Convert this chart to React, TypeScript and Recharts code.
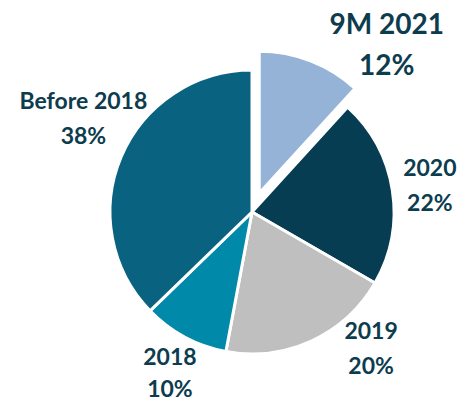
import { PieChart, Pie, Cell } from 'recharts'

const periods = ['9M 2021', '2020', '2019', '2018', 'Before 2018']
const shares = [12, 22, 20, 10, 38]
const colors = ['#95b3d7', '#063d52', '#bfbfbf', '#0089a9', '#0a6281']

const data = periods.map((name, i) => ({ name, value: shares[i] }))

const RAD = Math.PI / 180
const CX = 252
const CY = 212
const R = 142
const EXPLODE = 20
const TEXT = '#0c3c4e'

// hand-tuned shifts from the plain radial label spot
const labelNudge: Record<string, [number, number]> = {
  '9M 2021': [69, 1],
  '2020': [-2, 0],
  '2019': [43, -30],
  '2018': [4, 0],
  'Before 2018': [-1, -24],
}

// eslint-disable-next-line @typescript-eslint/no-explicit-any
function renderLabel(props: any) {
  const { midAngle, name, value } = props
  const dist = R + 40
  const [nx, ny] = labelNudge[name] ?? [0, 0]
  const x = CX + dist * Math.cos(-midAngle * RAD) + nx
  const y = CY + dist * Math.sin(-midAngle * RAD) + ny
  const big = name === '9M 2021'
  const gap = big ? 20.5 : name === '2018' ? 16 : 17.5
  return (
    <text
      x={x}
      y={y}
      textAnchor="middle"
      fill={TEXT}
      fontFamily="Lato, sans-serif"
      fontWeight={700}
      fontSize={big ? 28 : 23}
    >
      <tspan x={x} y={y - gap} dominantBaseline="central">{name}</tspan>
      <tspan x={x} y={y + gap} dominantBaseline="central">{`${value}%`}</tspan>
    </text>
  )
}

export default function App() {
  // 9M 2021 is pulled out along its mid angle
  const midDeg = (shares[0] / shares.reduce((a, b) => a + b, 0)) * 180
  const ex = CX + EXPLODE * Math.sin(midDeg * RAD)
  const ey = CY - EXPLODE * Math.cos(midDeg * RAD)

  return (
    <div style={{ position: 'absolute', left: 0, top: 0, width: 461, height: 401, overflow: 'hidden', background: '#fff' }}>
      <PieChart width={461} height={401} margin={{ top: 0, right: 0, bottom: 0, left: 0 }} style={{ overflow: 'visible' }}>
        <Pie
          data={data}
          dataKey="value"
          nameKey="name"
          cx={CX}
          cy={CY}
          outerRadius={R}
          startAngle={90}
          endAngle={-270}
          stroke="#fff"
          strokeWidth={3}
          label={renderLabel}
          labelLine={false}
          isAnimationActive={false}
        >
          {data.map((d, i) => (
            <Cell key={d.name} fill={i === 0 ? 'transparent' : colors[i]} stroke={i === 0 ? 'none' : '#fff'} />
          ))}
        </Pie>
        <Pie
          data={data}
          dataKey="value"
          nameKey="name"
          cx={ex}
          cy={ey}
          outerRadius={R}
          startAngle={90}
          endAngle={-270}
          stroke="#fff"
          strokeWidth={3}
          isAnimationActive={false}
        >
          {data.map((d, i) => (
            <Cell key={d.name} fill={i === 0 ? colors[0] : 'transparent'} stroke={i === 0 ? '#fff' : 'none'} />
          ))}
        </Pie>
      </PieChart>
    </div>
  )
}
